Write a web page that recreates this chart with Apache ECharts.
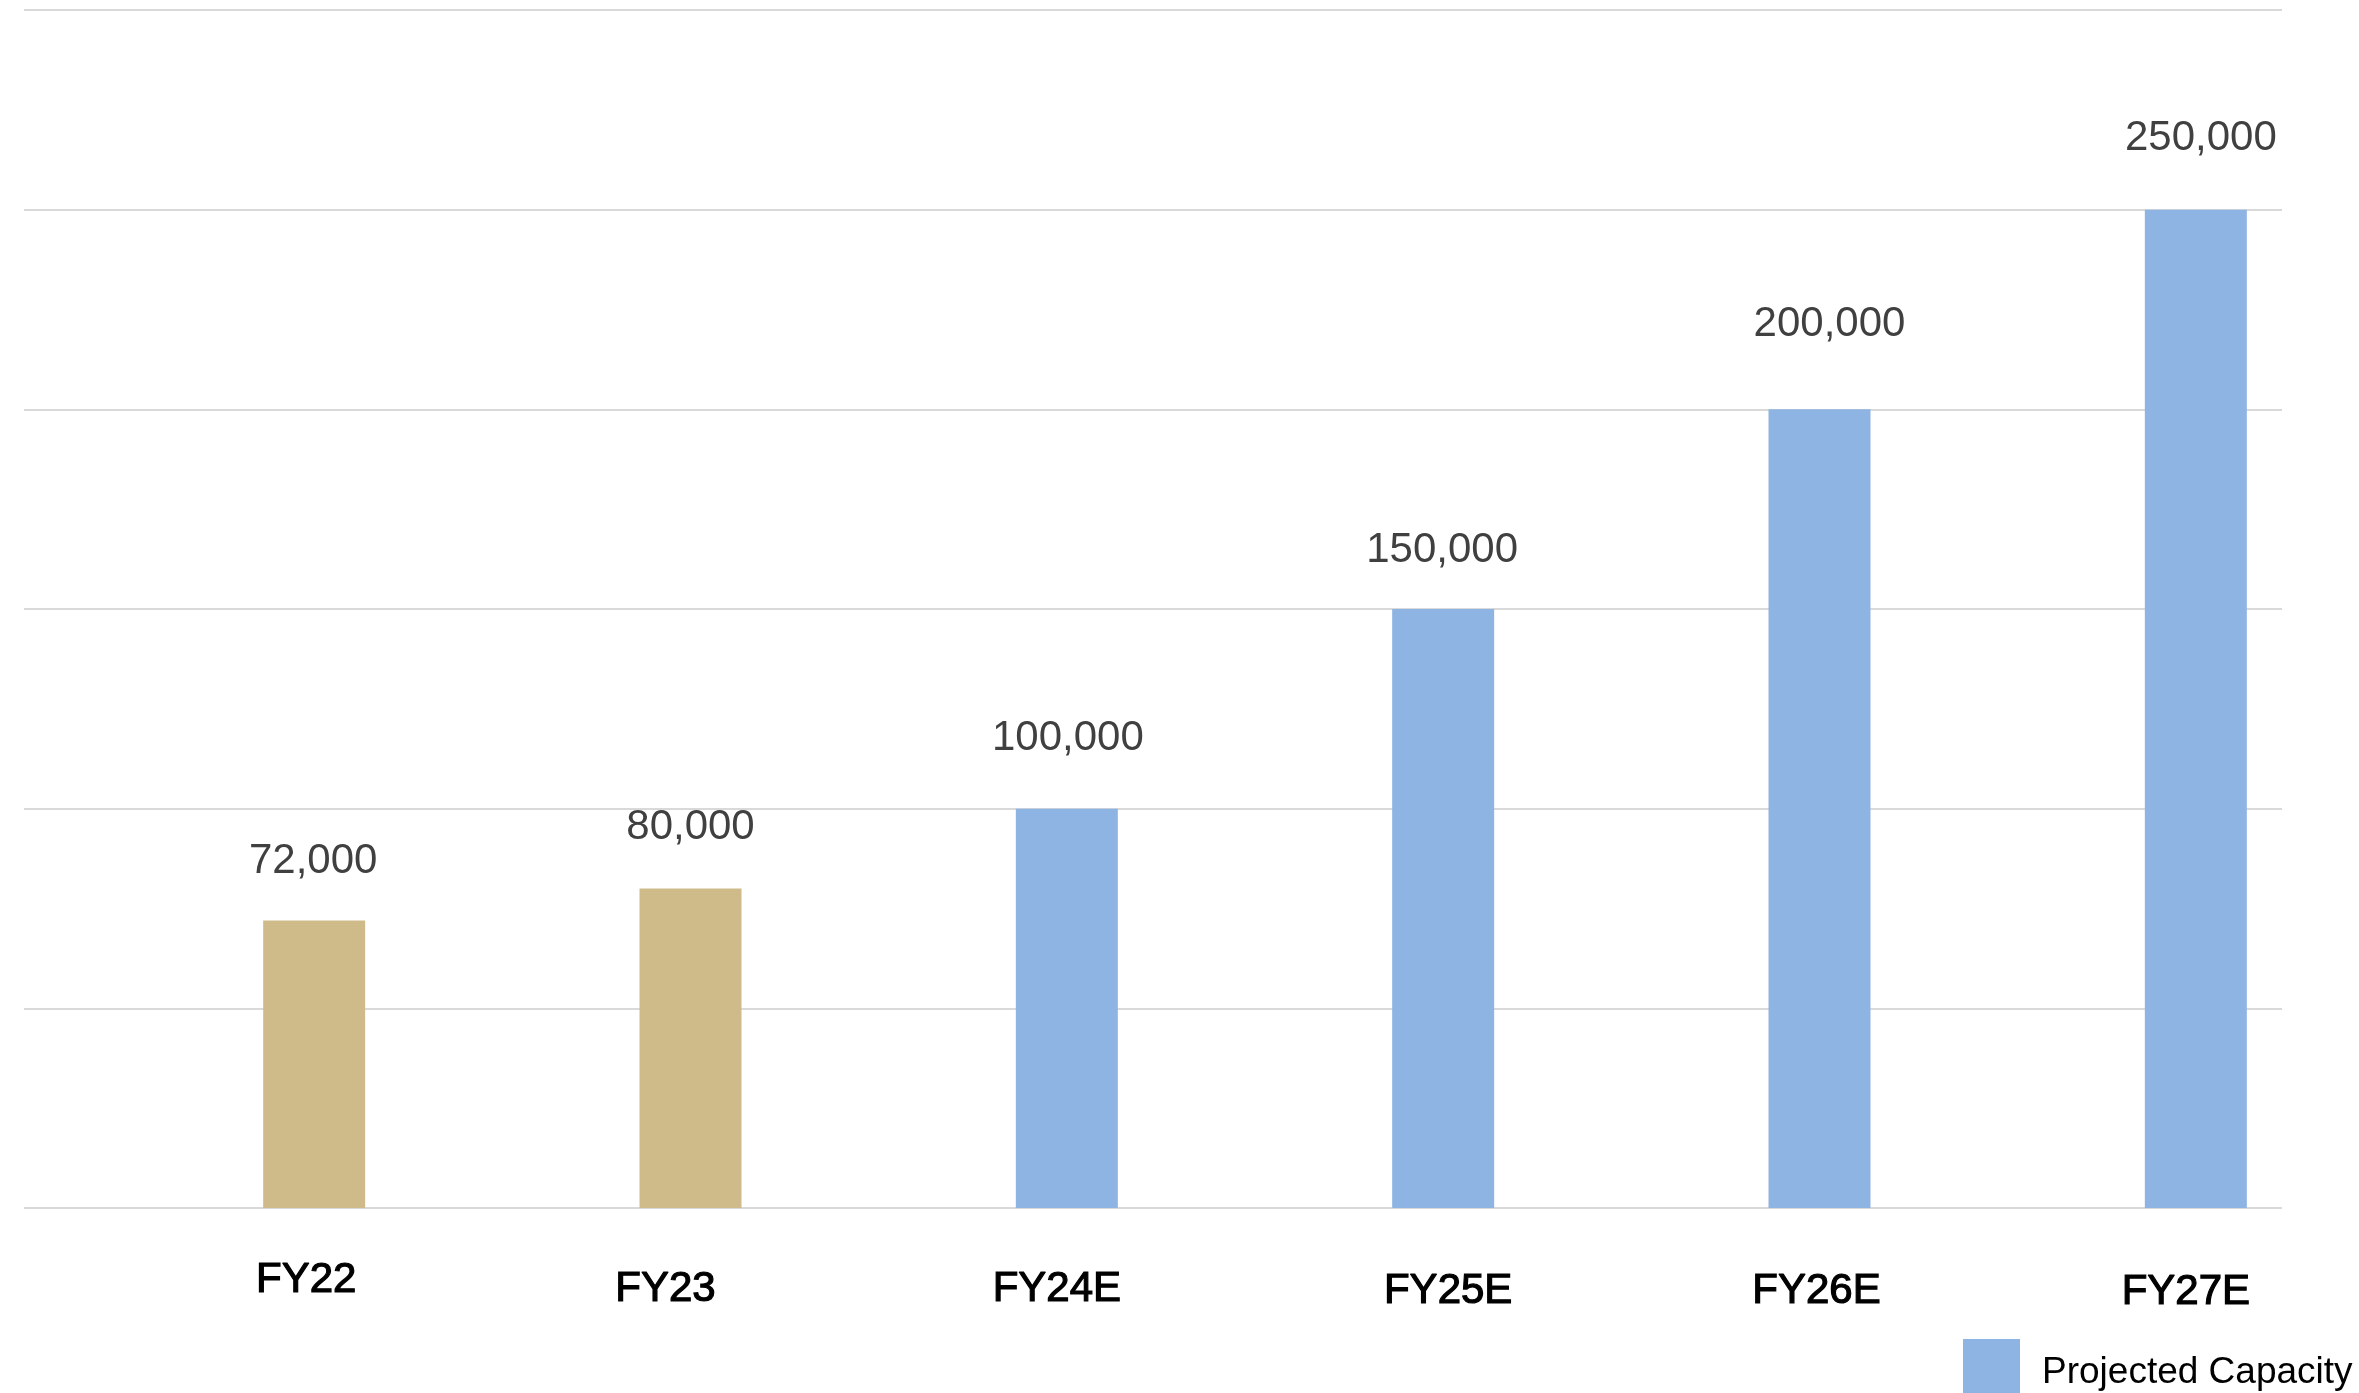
<!DOCTYPE html>
<html>
<head>
<meta charset="utf-8">
<script src="https://cdn.jsdelivr.net/npm/echarts@6/dist/echarts.min.js"></script>
<style>
  html, body { margin: 0; padding: 0; background: #ffffff; }
  #chart { width: 2359px; height: 1393px; }
</style>
</head>
<body>
<div id="chart"></div>
<script>
// ---- data ----
const categories = ['FY22', 'FY23', 'FY24E', 'FY25E', 'FY26E', 'FY27E'];
const capacity = [72000, 80000, 100000, 150000, 200000, 250000];
const isActual = [true, true, false, false, false, false];
const seriesName = 'Projected Capacity';
const yMin = 0, yMax = 300000, yStep = 50000;

// ---- label placement tweaks (px) ----
const valueLabelDx = [-1, 0, 1, -1, 10, 5];
const valueLabelGap = [38, 40, 49, 38, 64, 50];
const catLabelDx = [94, 77, 92, 107, 99, 92];   // from category centre
const catLabelDy = [0, 9, 9, 11, 11, 12];

// ---- styles ----
const BLUE = '#8EB4E3';
const BROWN = '#CFBB89';
const GRID_COLOR = '#D9D9D9';
const FONT = "'Liberation Sans', Arial, sans-serif";

const rich = {};
categories.forEach((c, i) => {
  const dx = catLabelDx[i];
  rich['c' + i] = {
    fontSize: 42,
    lineHeight: 42,
    color: '#000000',
    textBorderColor: '#000000',
    textBorderWidth: 1.2,
    fontFamily: FONT,
    padding: [2 * catLabelDy[i], dx < 0 ? -2 * dx : 0, 0, dx > 0 ? 2 * dx : 0]
  };
});

const chart = echarts.init(document.getElementById('chart'));
chart.setOption({
  animation: false,
  backgroundColor: '#ffffff',
  grid: { left: 24, top: 10, width: 2258, height: 1198 },
  legend: {
    data: [seriesName],
    left: 1963,
    top: 1339,
    padding: 0,
    itemWidth: 57,
    itemHeight: 54,
    icon: 'rect',
    formatter: name => '{t|' + name + '}',
    textStyle: {
      fontSize: 37, color: '#000000', fontFamily: FONT, padding: [0, 0, 0, 17],
      rich: { t: { fontSize: 37, color: '#000000', fontFamily: FONT, padding: [14, 0, 0, 0] } }
    }
  },
  xAxis: {
    type: 'category',
    data: categories,
    axisLine: { show: false },
    axisTick: { show: false },
    splitLine: { show: false },
    axisLabel: {
      interval: 0,
      margin: 51,
      formatter: (v, i) => '{c' + i + '|' + v + '}',
      rich: rich
    }
  },
  yAxis: {
    type: 'value', min: yMin, max: yMax, interval: yStep,
    axisLine: { show: false }, axisTick: { show: false }, axisLabel: { show: false },
    splitLine: { show: true, lineStyle: { color: GRID_COLOR, width: 2 } }
  },
  series: [
    {
      name: 'slot',
      type: 'bar',
      barWidth: 102,
      barGap: '100%',
      data: categories.map(() => '-')
    },
    {
      name: seriesName,
      type: 'bar',
      barWidth: 102,
      barGap: '100%',
      itemStyle: { color: BLUE },
      label: {
        show: true,
        position: 'top',
        fontSize: 42,
        lineHeight: 42,
        color: '#404040',
        fontFamily: FONT,
        formatter: p => Number(p.value).toLocaleString('en-US')
      },
      data: capacity.map((v, i) => ({
        value: v,
        itemStyle: { color: isActual[i] ? BROWN : BLUE },
        label: { distance: valueLabelGap[i], offset: [valueLabelDx[i], 0] }
      }))
    }
  ]
});
</script>
</body>
</html>
